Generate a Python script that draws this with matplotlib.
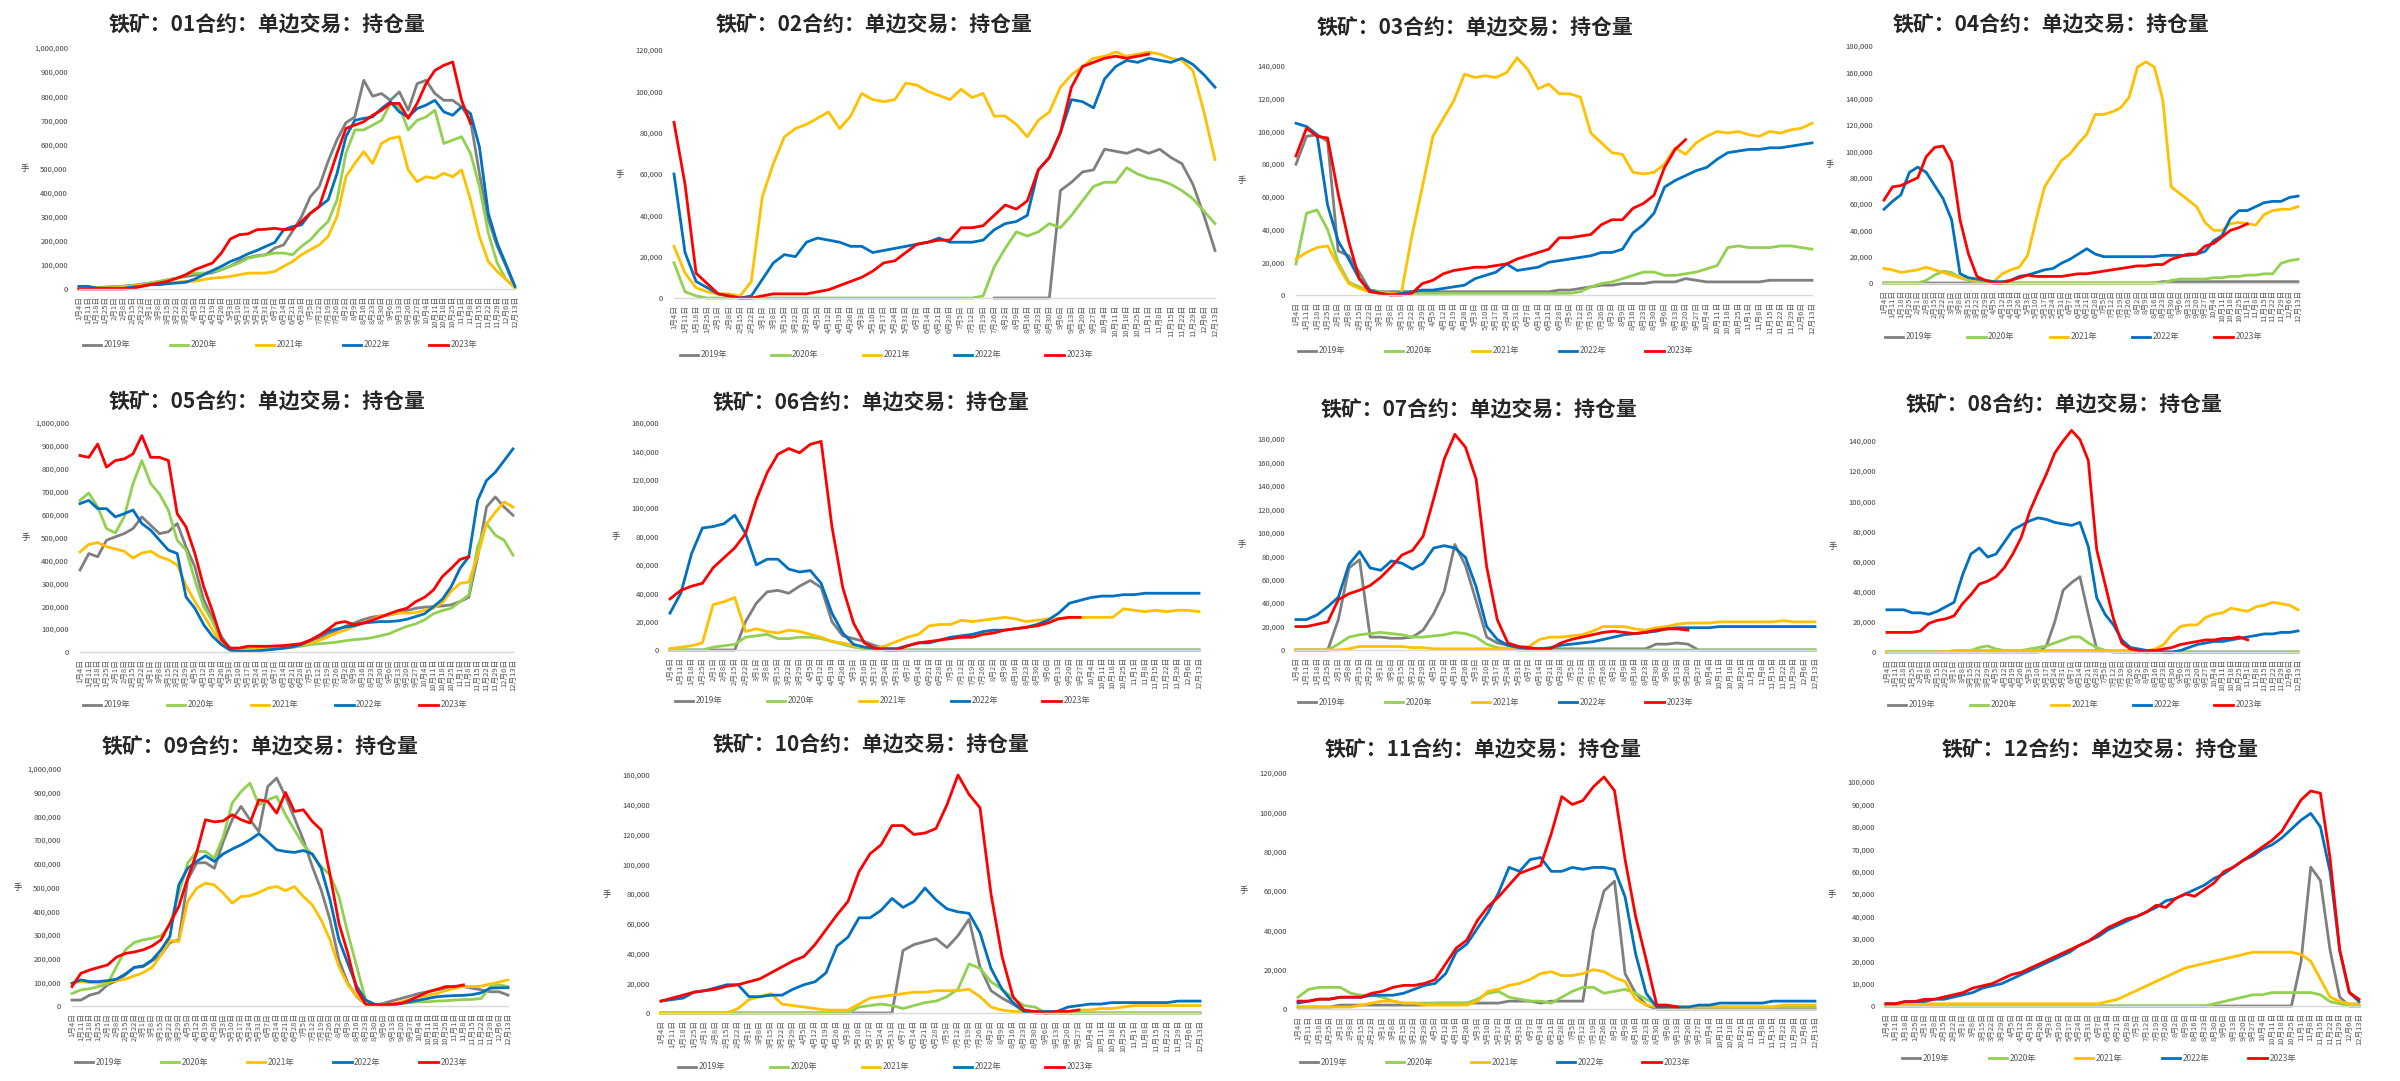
"""Iron ore futures: open interest by contract month, 2019-2023 seasonal comparison."""
import numpy as np
import matplotlib
matplotlib.use("Agg")
import matplotlib.pyplot as plt
from matplotlib.ticker import FuncFormatter

plt.rcParams["font.family"] = ["Noto Sans CJK SC", "DejaVu Sans"]
plt.rcParams["axes.unicode_minus"] = False

# --- x axis: weekly sample dates ---
dates = ["1月4日", "1月11日", "1月18日", "1月25日", "2月1日", "2月8日", "2月15日", "2月22日",
         "3月1日", "3月8日", "3月15日", "3月22日", "3月29日", "4月5日", "4月12日", "4月19日",
         "4月26日", "5月3日", "5月10日", "5月17日", "5月24日", "5月31日", "6月7日", "6月14日",
         "6月21日", "6月28日", "7月5日", "7月12日", "7月19日", "7月26日", "8月2日", "8月9日",
         "8月16日", "8月23日", "8月30日", "9月6日", "9月13日", "9月20日", "9月27日", "10月4日",
         "10月11日", "10月18日", "10月25日", "11月1日", "11月8日", "11月15日", "11月22日",
         "11月29日", "12月6日", "12月13日"]

years = ["2019年", "2020年", "2021年", "2022年", "2023年"]
colors = ["#7f7f7f", "#92d050", "#ffc000", "#0070c0", "#ff0000"]
contracts = ["01", "02", "03", "04", "05", "06", "07", "08", "09", "10", "11", "12"]

# --- open interest, thousand lots (None = contract not listed yet / no data) ---
oi01_2019 = [5, 5, 6, 8, 10, 12, 15, 20, 25, 30, 38, 45, 52, 58, 62, 68, 80, 95, 115, 130,
             138, 142, 170, 183, 240, 300, 383, 425, 530, 620, 690, 714, 866, 800, 811, 783, 818, 742, 852, 866,
             811, 783, 783, 756, 700, 480, 287, 177, 94, 5]
oi01_2020 = [3, 4, 5, 6, 8, 11, 14, 18, 25, 32, 39, 45, 59, 66, 66, 73, 80, 94, 108, 128,
             135, 142, 149, 149, 142, 177, 204, 245, 280, 370, 563, 660, 660, 680, 700, 770, 756, 660, 700, 714,
             742, 604, 618, 632, 563, 425, 232, 108, 39, 5]
oi01_2021 = [2, 3, 4, 5, 7, 9, 12, 15, 18, 22, 25, 28, 32, 32, 39, 45, 48, 52, 59, 66,
             66, 66, 73, 94, 114, 142, 163, 183, 218, 301, 466, 521, 570, 521, 604, 625, 632, 494, 445, 466,
             459, 480, 466, 494, 370, 218, 114, 73, 39, 8]
oi01_2022 = [11, 11, 4, 3, 3, 3, 8, 11, 18, 18, 22, 25, 28, 41, 59, 77, 94, 114, 128, 146,
             160, 177, 193, 246, 259, 266, 314, 342, 370, 480, 632, 700, 708, 714, 749, 777, 735, 714, 749, 763,
             783, 735, 721, 756, 728, 590, 314, 190, 101, 11]
oi01_2023 = [0, 0, 0, 0, 0, 0, 2, 11, 18, 25, 32, 45, 59, 80, 94, 108, 149, 207, 225, 229,
             246, 248, 252, 246, 248, 280, 314, 342, 452, 563, 666, 680, 694, 721, 742, 770, 770, 708, 770, 852,
             907, 928, 942, 783, 687, None, None, None, None, None]

oi02_2019 = [None, None, None, None, None, None, None, None, None, None,
             None, None, None, None, None, None, None, None, None, None,
             None, None, None, None, None, None, None, None, None, 0,
             0, 0, 0, 0, 0, 52, 56, 61, 62, 72, 71, 70, 72, 70, 72, 68, 65, 55, 40, 23]
oi02_2020 = [17, 3, 1, 0, 0, 0, 0, 0, 0, 0, 0, 0, 0, 0, 0, 0, 0, 0, 0, 0,
             0, 0, 0, 0, 0, 0, 0, 0, 1, 15, 24, 32, 30, 32, 36, 34, 40, 47, 54, 56,
             56, 63, 60, 58, 57, 55, 52, 48, 42, 36]
oi02_2021 = [25, 12, 5, 3, 2, 2, 1, 8, 49, 65, 78, 82, 84, 87, 90, 82, 88, 99, 96, 95,
             96, 104, 103, 100, 98, 96, 101, 97, 99, 88, 88, 84, 78, 86, 90, 102, 108, 112, 116, 117,
             119, 117, 118, 119, 118, 116, 115, 110, 90, 67]
oi02_2022 = [60, 22, 8, 5, 2, 1, 0, 1, 9, 17, 21, 20, 27, 29, 28, 27, 25, 25, 22, 23,
             24, 25, 26, 27, 29, 27, 27, 27, 28, 33, 36, 37, 40, 62, 68, 80, 96, 95, 92, 106,
             112, 115, 114, 116, 115, 114, 116, 113, 108, 102]
oi02_2023 = [85, 55, 12, 7, 2, 1, 0, 0, 1, 2, 2, 2, 2, 3, 4, 6, 8, 10, 13, 17,
             18, 22, 26, 27, 28, 28, 34, 34, 35, 40, 45, 43, 47, 62, 68, 80, 102, 112, 114, 116,
             117, 116, 117, 118, None, None, None, None, None, None]

oi03_2019 = [80, 97, 98, 94, 27, 24, 14, 3, 2, 2, 2, 2, 2, 2, 2, 2, 2, 2, 2, 2,
             2, 2, 2, 2, 2, 3, 3, 4, 5, 6, 6, 7, 7, 7, 8, 8, 8, 10, 9, 8,
             8, 8, 8, 8, 8, 9, 9, 9, 9, 9]
oi03_2020 = [19, 50, 52, 40, 20, 8, 5, 3, 2, 1, 1, 1, 1, 1, 1, 1, 1, 1, 1, 1,
             1, 1, 1, 1, 1, 1, 1, 2, 5, 7, 8, 10, 12, 14, 14, 12, 12, 13, 14, 16,
             18, 29, 30, 29, 29, 29, 30, 30, 29, 28]
oi03_2021 = [22, 26, 29, 30, 18, 7, 4, 2, 1, 1, 1, 36, 66, 97, 108, 119, 135, 133, 134, 133,
             136, 145, 138, 126, 129, 123, 123, 121, 99, 93, 87, 86, 75, 74, 75, 80, 90, 86, 93, 97,
             100, 99, 100, 98, 97, 100, 99, 101, 102, 105]
oi03_2022 = [105, 103, 98, 55, 33, 22, 10, 3, 1, 0, 1, 2, 3, 3, 4, 5, 6, 10, 12, 14,
             19, 15, 16, 17, 20, 21, 22, 23, 24, 26, 26, 28, 38, 43, 50, 66, 70, 73, 76, 78,
             83, 87, 88, 89, 89, 90, 90, 91, 92, 93]
oi03_2023 = [85, 102, 97, 96, 62, 33, 10, 2, 1, 0, 0, 1, 7, 9, 13, 15, 16, 17, 17, 18,
             19, 22, 24, 26, 28, 35, 35, 36, 37, 43, 46, 46, 53, 56, 61, 78, 89, 95, None, None,
             None, None, None, None, None, None, None, None, None, None]

oi04_2019 = [0, 0, 0, 0, 0, 0, 0, 0, 0, 0, 0, 0, 0, 0, 0, 0, 0, 0, 0, 0,
             0, 0, 0, 0, 0, 0, 0, 0, 0, 0, 0, 0, 0, 1, 1, 1, 1, 1, 1, 1,
             1, 1, 1, 1, 1, 1, 1, 1, 1, 1]
oi04_2020 = [0, 0, 0, 0, 0, 2, 6, 9, 8, 4, 2, 1, 1, 0, 0, 0, 0, 0, 0, 0,
             0, 0, 0, 0, 0, 0, 0, 0, 0, 0, 0, 0, 0, 0, 2, 3, 3, 3, 3, 4,
             4, 5, 5, 6, 6, 7, 7, 15, 17, 18]
oi04_2021 = [11, 10, 8, 9, 10, 12, 10, 8, 6, 4, 3, 2, 2, 1, 7, 10, 12, 21, 48, 73,
             83, 93, 98, 106, 113, 128, 128, 130, 133, 141, 164, 168, 164, 139, 73, 68, 63, 58, 46, 40,
             40, 45, 46, 45, 44, 52, 55, 56, 56, 58]
oi04_2022 = [56, 62, 67, 84, 88, 84, 74, 64, 48, 7, 4, 3, 2, 1, 1, 2, 5, 6, 8, 10,
             11, 15, 18, 22, 26, 22, 20, 20, 20, 20, 20, 20, 20, 21, 21, 21, 21, 22, 24, 32,
             36, 49, 55, 55, 58, 61, 62, 62, 65, 66]
oi04_2023 = [63, 73, 74, 77, 80, 96, 103, 104, 92, 48, 22, 5, 2, 0, 0, 2, 4, 6, 5, 5,
             5, 5, 6, 7, 7, 8, 9, 10, 11, 12, 13, 13, 14, 14, 18, 20, 22, 22, 28, 30,
             35, 40, 42, 45, None, None, None, None, None, None]

oi05_2019 = [358, 430, 416, 488, 503, 517, 539, 590, 553, 517, 525, 561, 459, 372, 227, 148, 68, 13, 10, 12,
             14, 15, 17, 20, 25, 32, 46, 61, 80, 94, 112, 126, 141, 152, 158, 162, 170, 181, 191, 196,
             198, 201, 206, 220, 239, 416, 633, 677, 633, 597]
oi05_2020 = [662, 694, 633, 539, 520, 590, 735, 836, 735, 690, 619, 488, 445, 314, 198, 133, 46, 10, 8, 10,
             12, 14, 15, 18, 20, 25, 32, 36, 39, 43, 49, 54, 57, 62, 71, 80, 97, 112, 123, 141,
             167, 181, 191, 220, 249, 459, 561, 510, 488, 423]
oi05_2021 = [437, 470, 478, 460, 450, 440, 410, 432, 440, 416, 403, 380, 290, 220, 160, 95, 35, 8, 5, 8,
             14, 22, 25, 25, 28, 32, 38, 50, 65, 82, 95, 112, 125, 141, 158, 162, 170, 170, 172, 182,
             191, 215, 265, 300, 305, 420, 560, 610, 655, 633]
oi05_2022 = [648, 662, 626, 626, 590, 604, 620, 561, 532, 488, 445, 430, 240, 191, 119, 68, 32, 8, 3, 3,
             5, 8, 12, 16, 22, 32, 49, 71, 90, 100, 109, 114, 126, 130, 133, 133, 136, 143, 155, 167,
             198, 230, 285, 365, 416, 662, 749, 785, 836, 887]
oi05_2023 = [858, 850, 908, 807, 836, 843, 865, 945, 850, 850, 836, 604, 546, 430, 285, 177, 54, 17, 17, 25,
             25, 25, 26, 28, 32, 36, 51, 71, 97, 126, 133, 119, 126, 138, 152, 167, 181, 191, 220, 239,
             271, 329, 365, 404, 416, None, None, None, None, None]

oi06_2019 = [0, 0, 0, 0, 0, 0, 0, 20, 33, 41, 42, 40, 45, 49, 44, 20, 10, 8, 6, 3,
             1, 0, 0, 0, 0, 0, 0, 0, 0, 0, 0, 0, 0, 0, 0, 0, 0, 0, 0, 0,
             0, 0, 0, 0, 0, 0, 0, 0, 0, 0]
oi06_2020 = [0, 0, 0, 0, 2, 3, 4, 9, 10, 11, 8, 8, 9, 9, 8, 6, 4, 2, 1, 0,
             0, 0, 0, 0, 0, 0, 0, 0, 0, 0, 0, 0, 0, 0, 0, 0, 0, 0, 0, 0,
             0, 0, 0, 0, 0, 0, 0, 0, 0, 0]
oi06_2021 = [1, 2, 3, 5, 32, 34, 37, 13, 15, 13, 12, 14, 13, 11, 9, 6, 5, 3, 2, 1,
             3, 6, 9, 11, 17, 18, 18, 21, 20, 21, 22, 23, 22, 20, 21, 22, 22, 23, 23, 23,
             23, 23, 29, 28, 27, 28, 27, 28, 28, 27]
oi06_2022 = [26, 40, 68, 86, 87, 89, 95, 82, 60, 64, 64, 57, 55, 56, 47, 26, 12, 4, 2, 1,
             1, 1, 3, 5, 5, 7, 9, 10, 11, 13, 14, 14, 15, 16, 18, 21, 26, 33, 35, 37,
             38, 38, 39, 39, 40, 40, 40, 40, 40, 40]
oi06_2023 = [36, 42, 45, 47, 58, 65, 72, 82, 106, 125, 138, 142, 139, 145, 147, 87, 44, 19, 5, 1,
             0, 0, 3, 5, 6, 7, 8, 9, 9, 11, 12, 14, 15, 16, 17, 19, 22, 23, 23, None,
             None, None, None, None, None, None, None, None, None, None]

oi07_2019 = [0, 0, 0, 0, 26, 70, 77, 11, 11, 10, 10, 11, 17, 31, 50, 90, 72, 42, 11, 6,
             4, 2, 1, 1, 1, 1, 1, 1, 1, 1, 1, 1, 1, 1, 5, 5, 6, 5, 0, 0,
             0, 0, 0, 0, 0, 0, 0, 0, 0, 0]
oi07_2020 = [0, 0, 0, 0, 5, 11, 13, 14, 15, 14, 13, 11, 11, 12, 13, 15, 14, 11, 5, 2,
             1, 0, 0, 0, 0, 0, 0, 0, 0, 0, 0, 0, 0, 0, 0, 0, 0, 0, 0, 0,
             0, 0, 0, 0, 0, 0, 0, 0, 0, 0]
oi07_2021 = [0, 0, 0, 0, 0, 1, 3, 3, 3, 3, 3, 2, 2, 1, 1, 1, 1, 1, 1, 1,
             1, 1, 3, 9, 11, 11, 12, 13, 16, 20, 20, 20, 18, 17, 19, 20, 22, 23, 23, 23,
             24, 24, 24, 24, 24, 24, 25, 24, 24, 24]
oi07_2022 = [26, 26, 30, 37, 45, 73, 84, 70, 68, 76, 74, 69, 74, 87, 89, 87, 79, 54, 20, 9,
             4, 2, 1, 1, 2, 4, 5, 6, 7, 9, 11, 13, 14, 15, 16, 18, 19, 19, 19, 19,
             20, 20, 20, 20, 20, 20, 20, 20, 20, 20]
oi07_2023 = [20, 20, 22, 24, 43, 48, 51, 55, 62, 71, 81, 85, 97, 129, 163, 184, 173, 146, 71, 26,
             6, 3, 2, 1, 1, 6, 9, 11, 13, 15, 16, 15, 14, 15, 17, 18, 18, 17, None, None,
             None, None, None, None, None, None, None, None, None, None]

oi08_2019 = [0, 0, 0, 0, 0, 0, 0, 0, 0, 0, 0, 0, 0, 0, 0, 0, 0, 0, 0, 4,
             20, 41, 46, 50, 25, 2, 1, 0, 0, 0, 0, 0, 0, 0, 0, 0, 0, 0, 0, 0,
             0, 0, 0, 0, 0, 0, 0, 0, 0, 0]
oi08_2020 = [0, 0, 0, 0, 0, 0, 0, 0, 0, 1, 1, 3, 4, 2, 1, 1, 1, 2, 3, 4,
             6, 8, 10, 10, 6, 3, 1, 0, 0, 0, 0, 0, 0, 0, 0, 0, 0, 0, 0, 0,
             0, 0, 0, 0, 0, 0, 0, 0, 0, 0]
oi08_2021 = [0, 0, 0, 0, 0, 0, 0, 0, 1, 1, 1, 1, 1, 1, 1, 1, 1, 1, 1, 1,
             1, 1, 1, 1, 1, 1, 1, 1, 1, 1, 1, 1, 2, 5, 12, 17, 18, 18, 23, 25,
             26, 29, 28, 27, 30, 31, 33, 32, 31, 28]
oi08_2022 = [28, 28, 28, 26, 26, 25, 27, 30, 33, 51, 65, 69, 63, 65, 73, 81, 84, 87, 89, 88,
             86, 85, 84, 86, 70, 36, 25, 18, 8, 3, 2, 1, 1, 0, 0, 1, 3, 5, 6, 7,
             7, 8, 9, 10, 11, 12, 12, 13, 13, 14]
oi08_2023 = [13, 13, 13, 13, 14, 19, 21, 22, 24, 32, 38, 45, 47, 50, 56, 65, 76, 93, 106, 118,
             132, 140, 147, 141, 127, 68, 45, 22, 6, 2, 1, 0, 1, 2, 3, 5, 6, 7, 8, 8,
             9, 9, 10, 8, None, None, None, None, None, None]

oi09_2019 = [25, 25, 46, 56, 89, 107, 131, 163, 166, 191, 215, 268, 279, 532, 603, 605, 581, 694, 786, 842,
             786, 736, 926, 962, 884, 793, 701, 589, 490, 363, 194, 96, 39, 8, 4, 11, 22, 32, 42, 53,
             60, 68, 75, 82, 82, 75, 68, 60, 60, 46]
oi09_2020 = [53, 68, 73, 82, 93, 166, 237, 268, 279, 286, 296, 342, 476, 603, 652, 652, 624, 715, 856, 905,
             940, 849, 870, 884, 807, 743, 680, 638, 589, 553, 462, 307, 166, 25, 3, 1, 6, 11, 14, 18,
             18, 21, 22, 25, 27, 28, 32, 82, 89, 82]
oi09_2021 = [96, 103, 99, 96, 101, 107, 113, 127, 141, 163, 215, 276, 272, 441, 497, 518, 511, 476, 434, 462,
             465, 479, 497, 504, 487, 504, 462, 427, 363, 279, 166, 89, 42, 11, 4, 4, 8, 18, 28, 39,
             45, 53, 65, 75, 82, 82, 84, 93, 101, 110]
oi09_2022 = [96, 110, 103, 103, 107, 113, 135, 163, 169, 194, 237, 293, 511, 581, 610, 634, 610, 642, 662, 680,
             701, 727, 694, 659, 652, 648, 656, 642, 581, 448, 279, 180, 82, 25, 8, 3, 4, 11, 18, 25,
             32, 39, 42, 44, 45, 48, 56, 75, 77, 77]
oi09_2023 = [82, 138, 152, 163, 173, 206, 222, 228, 237, 253, 279, 349, 420, 539, 645, 786, 777, 781, 807, 786,
             772, 870, 863, 814, 901, 821, 828, 779, 743, 553, 349, 222, 68, 8, 4, 4, 8, 11, 25, 42,
             60, 70, 82, 82, 89, None, None, None, None, None]

oi10_2019 = [0, 0, 0, 0, 0, 0, 0, 0, 0, 0, 0, 0, 0, 0, 0, 0, 0, 0, 0, 0,
             0, 0, 42, 46, 48, 50, 44, 52, 63, 31, 15, 10, 6, 1, 0, 0, 0, 0, 0, 0,
             0, 0, 0, 0, 0, 0, 0, 0, 0, 0]
oi10_2020 = [0, 0, 0, 0, 0, 0, 0, 0, 0, 0, 0, 0, 0, 0, 0, 0, 0, 0, 4, 5,
             6, 5, 3, 5, 7, 8, 11, 16, 33, 30, 21, 16, 10, 5, 4, 0, 0, 0, 0, 0,
             0, 0, 0, 0, 0, 0, 0, 0, 0, 0]
oi10_2021 = [0, 0, 0, 0, 0, 0, 0, 3, 9, 11, 13, 6, 5, 4, 3, 2, 2, 2, 6, 10,
             11, 12, 13, 14, 14, 15, 15, 15, 16, 11, 4, 2, 1, 1, 1, 1, 1, 1, 2, 2,
             3, 3, 4, 5, 5, 5, 5, 5, 5, 5]
oi10_2022 = [8, 9, 10, 14, 15, 17, 19, 19, 11, 11, 12, 12, 16, 19, 21, 27, 45, 51, 64, 64,
             69, 77, 71, 75, 84, 76, 70, 68, 67, 54, 30, 16, 7, 1, 1, 1, 1, 4, 5, 6,
             6, 7, 7, 7, 7, 7, 7, 8, 8, 8]
oi10_2023 = [8, 10, 12, 14, 15, 16, 18, 19, 21, 23, 27, 31, 35, 38, 46, 56, 66, 75, 95, 107,
             113, 126, 126, 120, 121, 124, 140, 160, 147, 138, 80, 38, 11, 2, 1, 0, 1, 1, 2, None,
             None, None, None, None, None, None, None, None, None, None]

oi11_2019 = [1, 1, 1, 1, 2, 2, 2, 2, 2, 2, 2, 2, 2, 3, 3, 3, 3, 3, 3, 3,
             4, 4, 4, 3, 4, 4, 4, 4, 40, 60, 65, 18, 8, 2, 0, 0, 0, 0, 0, 0,
             0, 0, 0, 0, 0, 0, 0, 0, 0, 0]
oi11_2020 = [6, 10, 11, 11, 11, 8, 7, 7, 6, 4, 3, 3, 3, 3, 3, 3, 3, 5, 8, 9,
             6, 5, 4, 4, 3, 6, 9, 11, 11, 8, 9, 10, 8, 5, 2, 1, 1, 1, 1, 1,
             1, 1, 1, 1, 1, 1, 1, 1, 1, 1]
oi11_2021 = [1, 1, 1, 1, 1, 1, 2, 3, 4, 4, 3, 3, 2, 2, 2, 2, 2, 4, 9, 10,
             12, 13, 15, 18, 19, 17, 17, 18, 20, 19, 16, 14, 5, 2, 1, 1, 1, 1, 1, 1,
             1, 1, 1, 1, 1, 1, 2, 2, 2, 2]
oi11_2022 = [3, 4, 5, 5, 6, 6, 6, 7, 7, 7, 8, 10, 12, 13, 18, 29, 33, 41, 49, 59,
             72, 70, 76, 77, 70, 70, 72, 71, 72, 72, 71, 57, 28, 8, 1, 1, 1, 1, 2, 2,
             3, 3, 3, 3, 3, 4, 4, 4, 4, 4]
oi11_2023 = [4, 4, 5, 5, 6, 6, 6, 8, 9, 11, 12, 12, 13, 15, 23, 31, 35, 45, 52, 57,
             63, 69, 71, 73, 89, 108, 104, 106, 113, 118, 111, 76, 47, 25, 2, 2, 1, None, None, None,
             None, None, None, None, None, None, None, None, None, None]

oi12_2019 = [0, 0, 0, 0, 0, 0, 0, 0, 0, 0, 0, 0, 0, 0, 0, 0, 0, 0, 0, 0,
             0, 0, 0, 0, 0, 0, 0, 0, 0, 0, 0, 0, 0, 0, 0, 0, 0, 0, 0, 0,
             0, 0, 0, 20, 62, 56, 25, 4, 0, 0]
oi12_2020 = [0, 0, 0, 0, 0, 0, 0, 0, 0, 0, 0, 0, 0, 0, 0, 0, 0, 0, 0, 0,
             0, 0, 0, 0, 0, 0, 0, 0, 0, 0, 0, 0, 0, 0, 1, 2, 3, 4, 5, 5,
             6, 6, 6, 6, 6, 5, 2, 1, 0, 0]
oi12_2021 = [1, 1, 1, 1, 1, 1, 1, 1, 1, 1, 1, 1, 1, 1, 1, 1, 1, 1, 1, 1,
             1, 1, 1, 2, 3, 5, 7, 9, 11, 13, 15, 17, 18, 19, 20, 21, 22, 23, 24, 24,
             24, 24, 24, 23, 20, 12, 4, 2, 1, 1]
oi12_2022 = [1, 1, 2, 2, 2, 3, 3, 4, 5, 6, 8, 9, 10, 12, 14, 16, 18, 20, 22, 24,
             27, 29, 31, 34, 36, 38, 40, 42, 44, 47, 48, 50, 52, 54, 57, 59, 62, 65, 67, 70,
             72, 75, 79, 83, 86, 80, 60, 25, 6, 2]
oi12_2023 = [1, 1, 2, 2, 3, 3, 4, 5, 6, 8, 9, 10, 12, 14, 15, 17, 19, 21, 23, 25,
             27, 29, 32, 35, 37, 39, 40, 42, 45, 44, 48, 50, 49, 52, 55, 60, 62, 65, 68, 71,
             74, 78, 85, 92, 96, 95, 66, 25, 6, 3]

SERIES = [
    [oi01_2019, oi01_2020, oi01_2021, oi01_2022, oi01_2023],
    [oi02_2019, oi02_2020, oi02_2021, oi02_2022, oi02_2023],
    [oi03_2019, oi03_2020, oi03_2021, oi03_2022, oi03_2023],
    [oi04_2019, oi04_2020, oi04_2021, oi04_2022, oi04_2023],
    [oi05_2019, oi05_2020, oi05_2021, oi05_2022, oi05_2023],
    [oi06_2019, oi06_2020, oi06_2021, oi06_2022, oi06_2023],
    [oi07_2019, oi07_2020, oi07_2021, oi07_2022, oi07_2023],
    [oi08_2019, oi08_2020, oi08_2021, oi08_2022, oi08_2023],
    [oi09_2019, oi09_2020, oi09_2021, oi09_2022, oi09_2023],
    [oi10_2019, oi10_2020, oi10_2021, oi10_2022, oi10_2023],
    [oi11_2019, oi11_2020, oi11_2021, oi11_2022, oi11_2023],
    [oi12_2019, oi12_2020, oi12_2021, oi12_2022, oi12_2023],
]
UNIT = 1000  # lists are in thousand lots

# --- layout (pixels on the 2400x1081 canvas) ---
W, H = 2400, 1081
# x0, x1, y of zero, y of top tick, top tick, tick step, y max (thousand lots)
GEOM = [
    (79, 515, 289, 48, 1000, 100, 1000),
    (674, 1215, 298, 50, 120, 20, 120),
    (1296, 1812, 295, 66, 140, 20, 146),
    (1884, 2298, 283, 46, 180, 20, 180),
    (80, 513, 652, 423, 1000, 100, 1000),
    (670, 1199, 650, 423, 160, 20, 160),
    (1296, 1815, 650, 439, 180, 20, 188),
    (1887, 2298, 652, 441, 140, 20, 150),
    (72, 508, 1006, 769, 1000, 100, 1000),
    (661, 1200, 1013, 775, 160, 20, 166),
    (1298, 1815, 1009, 773, 120, 20, 121),
    (1886, 2359, 1006, 782, 100, 10, 100),
]
TITLE_POS = [(267, 25), (874, 25), (1475, 28), (2051, 25), (267, 402), (871, 403),
             (1479, 410), (2064, 405), (260, 747), (871, 745), (1483, 750), (2100, 750)]
LEGEND_POS = [(83, 477, 345), (680, 1093, 355), (1298, 1693, 351), (1885, 2262, 337),
              (83, 467, 705), (675, 1090, 701), (1298, 1693, 702), (1888, 2262, 705),
              (75, 467, 1062), (678, 1093, 1067), (1300, 1690, 1062), (1902, 2296, 1058)]


def fx(px):
    return px / W


def fy(py):
    return 1 - py / H


fig = plt.figure(figsize=(W / 100, H / 100), dpi=100)
fmt = FuncFormatter(lambda v, p: f"{v:,.0f}")
xs = np.arange(len(dates))

for k, code in enumerate(contracts):
    x0, x1, yz, yt, tmax, step, ymax = GEOM[k]
    top_px = yz - (yz - yt) * ymax / tmax
    ax = fig.add_axes([fx(x0), fy(yz), fx(x1 - x0), (yz - top_px) / H])

    for vals, lab, col in zip(SERIES[k], years, colors):
        y = np.array(vals, dtype=float) * UNIT
        ax.plot(xs, y, color=col, lw=2.0, label=lab, clip_on=False,
                solid_joinstyle="round")

    ax.set_xlim(0, len(dates) - 1)
    ax.set_ylim(0, ymax * UNIT)
    ax.set_yticks(np.arange(0, tmax + step / 2, step) * UNIT)
    ax.yaxis.set_major_formatter(fmt)
    ax.set_xticks(xs)
    ax.set_xticklabels(dates, rotation=90, fontsize=5.5, color="#595959")
    ax.tick_params(axis="both", length=0)
    ax.tick_params(axis="y", labelsize=5.5, labelcolor="#404040", pad=8)
    ax.tick_params(axis="x", pad=5)
    for side in ("top", "right", "left"):
        ax.spines[side].set_visible(False)
    ax.spines["bottom"].set_color("#d9d9d9")
    ax.spines["bottom"].set_linewidth(1.0)

    # title and unit label
    cx, cy = TITLE_POS[k]
    fig.text(fx(cx), fy(cy), f"铁矿：{code}合约：单边交易：持仓量", ha="center", va="center",
             fontsize=15, fontweight="bold", color="#262626")
    fig.text(fx(x0 - 54), fy((yz + yt) / 2), "手", ha="center", va="center",
             fontsize=6, color="#404040")

    # legend row under the date labels
    lx0, lx1, ly = LEGEND_POS[k]
    leg = ax.legend(ncol=5, loc="center", bbox_to_anchor=(fx(lx0), fy(ly), fx(lx1 - lx0), 0),
                    bbox_transform=fig.transFigure, mode="expand", frameon=False, fontsize=6,
                    handlelength=2.2, handletextpad=0.3, borderaxespad=0, borderpad=0)
    for t in leg.get_texts():
        t.set_color("#595959")

fig.savefig("out.png", dpi=100)
print("Saved: out.png")
